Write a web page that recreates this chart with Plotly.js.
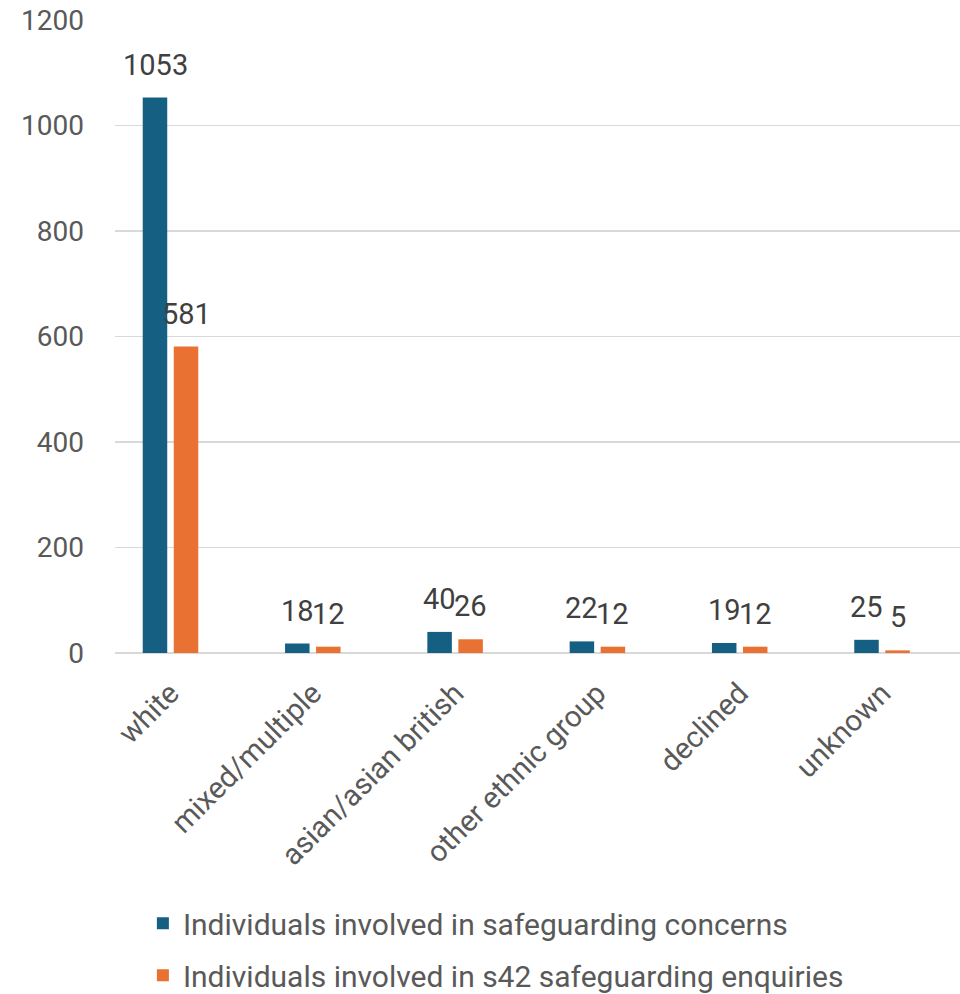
<!DOCTYPE html>
<html>
<head>
<meta charset="utf-8">
<script src="https://cdn.plot.ly/plotly-3.0.1.min.js"></script>
<style>html,body{margin:0;padding:0;background:#fff;}#chart{width:960px;height:994px;}</style>
</head>
<body>
<div id="chart"></div>
<script>
const categories = ["white", "mixed/multiple", "asian/asian british", "other ethnic group", "declined", "unknown"];
const concerns = [1053, 18, 40, 22, 19, 25];
const enquiries = [581, 12, 26, 12, 12, 5];
const seriesNames = ["Individuals involved in safeguarding concerns", "Individuals involved in s42 safeguarding enquiries"];
const yTicks = [0, 200, 400, 600, 800, 1000, 1200];

const FONT = "Roboto, 'Open Sans', Arial, sans-serif";
const labelFont = {family: FONT, size: 29, color: "#404040"};

const traces = [
  {type: "bar", x: categories, y: concerns, name: seriesNames[0], legendgroup: "a",
   marker: {color: "#156082"}, hoverinfo: "none"},
  {type: "bar", x: categories, y: enquiries, name: seriesNames[1], legendgroup: "b",
   marker: {color: "#E97132"}, hoverinfo: "none"}
];

// data labels built from the series arrays
const annotations = [];
[[concerns, -15.5], [enquiries, 15.5]].forEach(([vals, dx]) => {
  vals.forEach((v, i) => {
    annotations.push({x: categories[i], y: v, xref: "x", yref: "y", text: String(v),
      showarrow: false, xanchor: "center", yanchor: "bottom", xshift: dx, yshift: 14,
      font: labelFont});
  });
});

const layout = {
  width: 960, height: 994,
  margin: {l: 115, r: 0, t: 20, b: 341, autoexpand: false},
  paper_bgcolor: "#fff", plot_bgcolor: "#fff",
  barmode: "group", bargap: 0.564, bargroupgap: 0.21,
  showlegend: true,
  annotations: annotations,
  legend: {orientation: "v", x: 0.033, y: -0.386, xanchor: "left", yanchor: "top",
           font: {family: FONT, size: 30, color: "#595959"}, tracegroupgap: 10,
           itemwidth: 30, traceorder: "grouped"},
  xaxis: {type: "category", range: [-0.39, 5.548], tickangle: -45,
          tickfont: {family: FONT, size: 29.5, color: "#595959"},
          showgrid: false, showline: false, ticks: "", zeroline: false, fixedrange: true,
          ticklabelstandoff: 16},
  yaxis: {range: [0, 1200], tickvals: yTicks, ticktext: yTicks.map(String),
          tickfont: {family: FONT, size: 28, color: "#595959"},
          gridcolor: "#d9d9d9", gridwidth: 1.5, zeroline: true, zerolinecolor: "#d9d9d9", zerolinewidth: 2,
          showline: false, ticks: "", ticklabelstandoff: 30, fixedrange: true}
};

Plotly.newPlot("chart", traces, layout, {displayModeBar: false, staticPlot: true});
</script>
</body>
</html>
